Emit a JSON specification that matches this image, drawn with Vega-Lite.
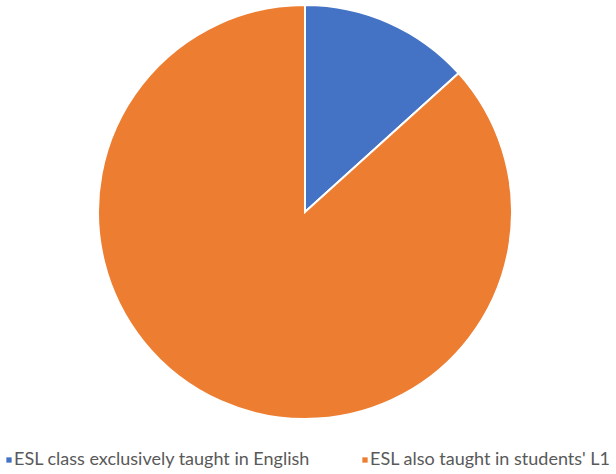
{
  "$schema": "https://vega.github.io/schema/vega-lite/v6.json",
  "width": 610,
  "height": 424,
  "padding": 0,
  "autosize": {"type": "pad"},
  "background": "white",
  "config": {"view": {"stroke": null}},
  "data": {"values": [
    {"category": "ESL class exclusively taught in English", "value": 13.3, "order": 1},
    {"category": "ESL also taught in students' L1", "value": 86.7, "order": 2}
  ]},
  "mark": {"type": "arc", "outerRadius": 207, "stroke": "white", "strokeWidth": 2},
  "encoding": {
    "theta": {"field": "value", "type": "quantitative", "stack": true},
    "order": {"field": "order", "type": "quantitative"},
    "color": {
      "field": "category", "type": "nominal",
      "scale": {"domain": ["ESL class exclusively taught in English", "ESL also taught in students' L1"], "range": ["#4472C4", "#ED7D31"]},
      "legend": {
        "title": null, "orient": "none", "legendX": 0, "legendY": 451,
        "direction": "horizontal", "columns": 2, "columnPadding": 45,
        "symbolType": "square", "symbolSize": 28, "symbolStrokeWidth": 0,
        "labelFont": "Lato", "labelFontSize": 18, "labelColor": "#595959",
        "labelLimit": 400, "labelOffset": -4
      }
    }
  }
}
